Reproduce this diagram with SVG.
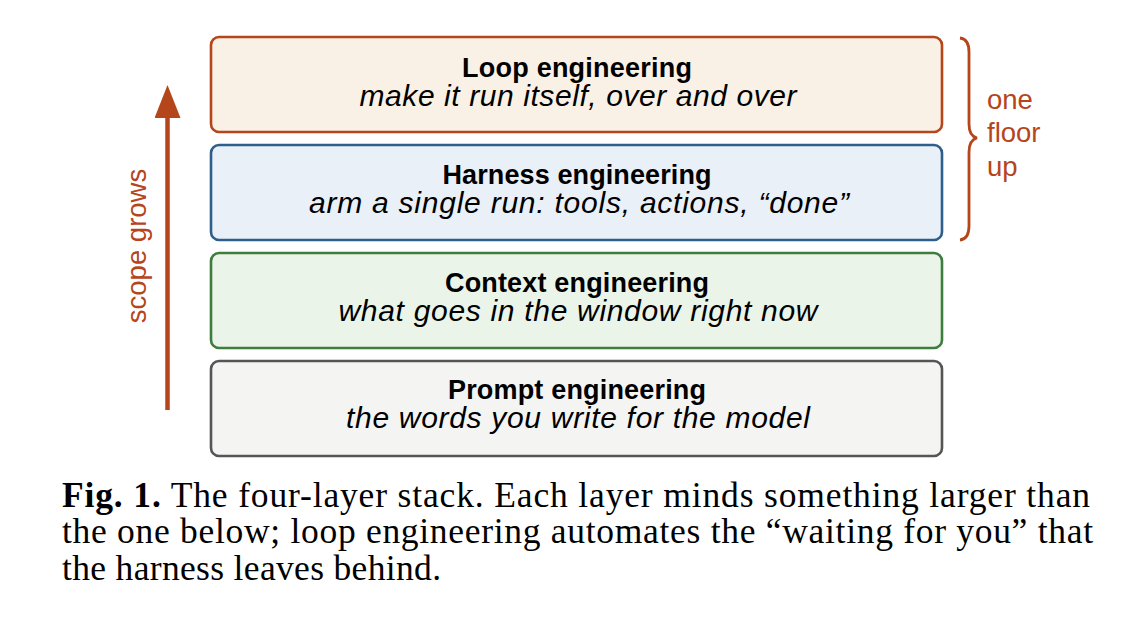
<svg xmlns="http://www.w3.org/2000/svg" width="1148" height="617" viewBox="0 0 1148 617">
<style>
.box{stroke-width:2.6}
.t{font-family:"Liberation Sans",Arial,sans-serif;font-weight:bold;font-size:27px;fill:#000;text-anchor:middle}
.s{font-family:"Liberation Sans",Arial,sans-serif;font-style:italic;font-size:30px;fill:#000;text-anchor:middle}
.o{font-family:"Liberation Sans",Arial,sans-serif;font-size:27.5px;fill:#b5451b}
.c{font-family:"Liberation Serif","Times New Roman",serif;font-size:35.5px;fill:#000}
</style>
<defs>
<marker id="ah" viewBox="0 0 33 26" refX="18" refY="13" markerWidth="33" markerHeight="26" markerUnits="userSpaceOnUse" orient="auto">
<path d="M0,0 L33,13 L0,26 z" fill="#b5451b"/>
</marker>
</defs>
<rect width="1148" height="617" fill="#fff"/>
<g id="loop">
<rect class="box" x="211" y="37" width="731" height="95" rx="8" fill="#faf1e6" stroke="#b5451b"/>
<text class="t" x="577" y="77" textLength="230" lengthAdjust="spacing">Loop engineering</text>
<text class="s" x="578" y="106" textLength="437" lengthAdjust="spacing">make it run itself, over and over</text>
</g>
<g id="harness">
<rect class="box" x="211" y="145" width="731" height="95" rx="8" fill="#e9f0f8" stroke="#2e5f8a"/>
<text class="t" x="577" y="184" textLength="269" lengthAdjust="spacing">Harness engineering</text>
<text class="s" x="579" y="213" textLength="540" lengthAdjust="spacing">arm a single run: tools, actions, “done”</text>
</g>
<g id="context">
<rect class="box" x="211" y="253" width="731" height="95" rx="8" fill="#ebf4e9" stroke="#3d7d3d"/>
<text class="t" x="577" y="292" textLength="264" lengthAdjust="spacing">Context engineering</text>
<text class="s" x="578" y="321" textLength="479" lengthAdjust="spacing">what goes in the window right now</text>
</g>
<g id="prompt">
<rect class="box" x="211" y="361" width="731" height="95" rx="8" fill="#f4f4f3" stroke="#555555"/>
<text class="t" x="577" y="399" textLength="258" lengthAdjust="spacing">Prompt engineering</text>
<text class="s" x="578" y="428" textLength="464" lengthAdjust="spacing">the words you write for the model</text>
</g>
<g id="connectors">
<line x1="167.5" y1="410" x2="167.5" y2="100" stroke="#b5451b" stroke-width="4.5" marker-end="url(#ah)"/>
<path d="M960,38 Q969,39 969,52 L969,124 Q969,136 977,138 Q969,140 969,152 L969,226 Q969,239 960,240" fill="none" stroke="#b5451b" stroke-width="2.8"/>
</g>
<g id="labels">
<text class="o" transform="translate(146,246) rotate(-90)" text-anchor="middle">scope grows</text>
<text class="o" x="987" y="109">one</text>
<text class="o" x="987" y="142">floor</text>
<text class="o" x="987" y="176">up</text>
</g>
<g id="caption">
<text class="c" x="62" y="507" textLength="1028" lengthAdjust="spacing"><tspan font-weight="bold">Fig. 1.</tspan> The four-layer stack. Each layer minds something larger than</text>
<text class="c" x="62" y="543" textLength="1031" lengthAdjust="spacing">the one below; loop engineering automates the “waiting for you” that</text>
<text class="c" x="62" y="580" textLength="379" lengthAdjust="spacing">the harness leaves behind.</text>
</g>
</svg>
